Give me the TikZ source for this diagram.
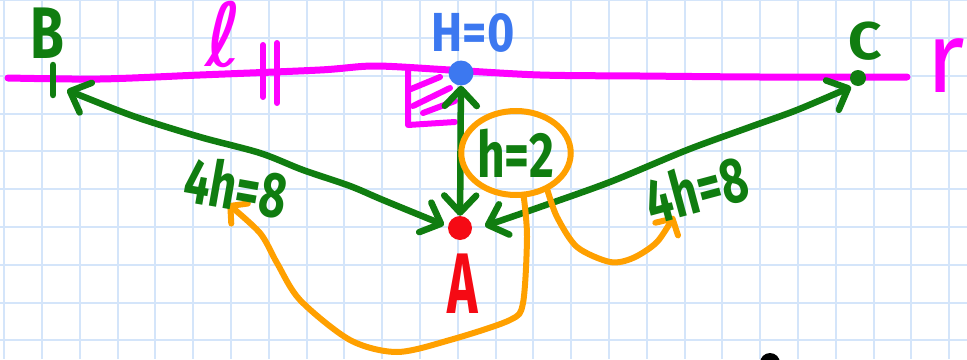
\documentclass[tikz,border=0pt]{standalone}
\usepackage{fontspec}
\setmainfont{Fira Sans}
\newfontfamily\djv{DejaVu Sans}
\usetikzlibrary{arrows.meta,shapes.geometric}
\definecolor{gridc}{RGB}{212,229,250}
\definecolor{pnk}{RGB}{255,0,255}
\definecolor{grn}{RGB}{16,125,16}
\definecolor{blu}{RGB}{60,120,240}
\definecolor{rd}{RGB}{245,10,20}
\definecolor{org}{RGB}{255,160,0}
\tikzset{
  gbarb/.tip={Straight Barb[length=17pt,width=32pt,line width=6.5pt,round]},
  obarb/.tip={Straight Barb[length=12pt,width=26pt,line width=6pt,round]},
}
\begin{document}
\begin{tikzpicture}[x=1pt,y=-1pt,
  lab/.style={inner sep=0pt, font=\bfseries\fontsize{#1pt}{#1pt}\selectfont},
  gline/.style={draw=grn, line width=6.5pt, line cap=round, line join=round},
  oline/.style={draw=org, line width=6pt, line cap=round, line join=round},
  pline/.style={draw=pnk, line width=7pt, line cap=round, line join=round}]
\useasboundingbox (0,0) rectangle (967,359);
\clip (0,0) rectangle (967,359);
\fill[white] (0,0) rectangle (967,359);
\foreach \i in {0,...,25}{\draw[gridc, line width=2pt] ({4.2+37.8*\i},0) -- ({4.2+37.8*\i},359);}
\foreach \j in {0,...,9}{\draw[gridc, line width=2pt] (0,{0.2+37.8*\j}) -- (967,{0.2+37.8*\j});}
% pink line
\draw[pline] plot[smooth] coordinates {(8,78) (100,79) (200,75) (320,70) (375,66) (450,70) (540,75) (640,76) (760,77) (907,77)};
\draw[pline, line width=6pt] (263,45) -- (263,97) (277,43) -- (277,103);
% right angle mark
\draw[pline, line width=6pt] (408,70) -- (408,125) -- (455,122);
\draw[pline, line width=6pt] (411,89) -- (440,77) (413,106) -- (450,88) (423,113) -- (455,101);
% B tick
\draw[gline] (53,65) -- (53,95);
% dots
\node[circle, fill=blu, minimum size=25pt, inner sep=0pt] (H) at (461,73) {};
\node[circle, fill=rd, minimum size=24pt, inner sep=0pt] (A) at (460,228) {};
\node[circle, fill=grn, minimum size=16pt, inner sep=0pt] (C) at (858,78) {};
\coordinate (Bt) at (67,90);
\coordinate (Al) at (444,225);
\coordinate (Ar) at (485,226);
\coordinate (Ct) at (851,87);
% green connectors
\draw[gline, gbarb-gbarb] (A) -- (H);
\draw[gline, gbarb-gbarb] plot[smooth] coordinates {(Al) (383,200) (350,186) (303,170) (260,153) (200,137) (133,116) (Bt)};
\draw[gline, gbarb-gbarb] plot[smooth] coordinates {(Ar) (540,207) (610,182) (687,150) (750,127) (797,110) (Ct)};
% orange
\node[ellipse, draw=org, line width=6pt, minimum width=102pt, minimum height=84pt, inner sep=0pt, text=grn, lab=64] (E) at (516,153) {\scalebox{0.75}[1]{h=2}};
\coordinate (O1) at (228,204);
\coordinate (O2) at (674,216);
\draw[oline, -obarb] plot[smooth] coordinates {(E.280) (527,237) (523,303) (510,320) (450,340) (397,352) (350,340) (300,300) (277,263) (260,233) (O1)};
\draw[oline, -obarb] plot[smooth] coordinates {(E.310) (557,217) (577,247) (610,262) (633,258) (657,242) (O2)};
% labels
\node[lab=73, text=grn] (Bl) at (47,33) {\scalebox{0.75}[1]{B}};
\node[lab=53, text=grn] (Cl) at (865,41) {\scalebox{1.1}[1]{C}};
\node[lab=55, text=blu] (Hl) at (473,33) {\scalebox{0.85}[1]{H=0}};
\node[lab=64, text=grn, rotate=-10] (L1) at (236,187) {\scalebox{0.72}[1]{4h=8}};
\node[lab=64, text=grn, rotate=15] (L2) at (696,189) {\scalebox{0.72}[1]{4h=8}};
\node[lab=86, text=rd] (Alab) at (463,284) {\scalebox{0.6}[1]{A}};
\node[inner sep=0pt, text=pnk, font=\djv\fontsize{88pt}{88pt}\selectfont] (ell) at (224,34) {ℓ};
\node[inner sep=0pt, text=pnk, font=\fontsize{100pt}{100pt}\selectfont] (rr) at (946,66) {r};
\fill (770,363) circle (10);
\end{tikzpicture}
\end{document}
